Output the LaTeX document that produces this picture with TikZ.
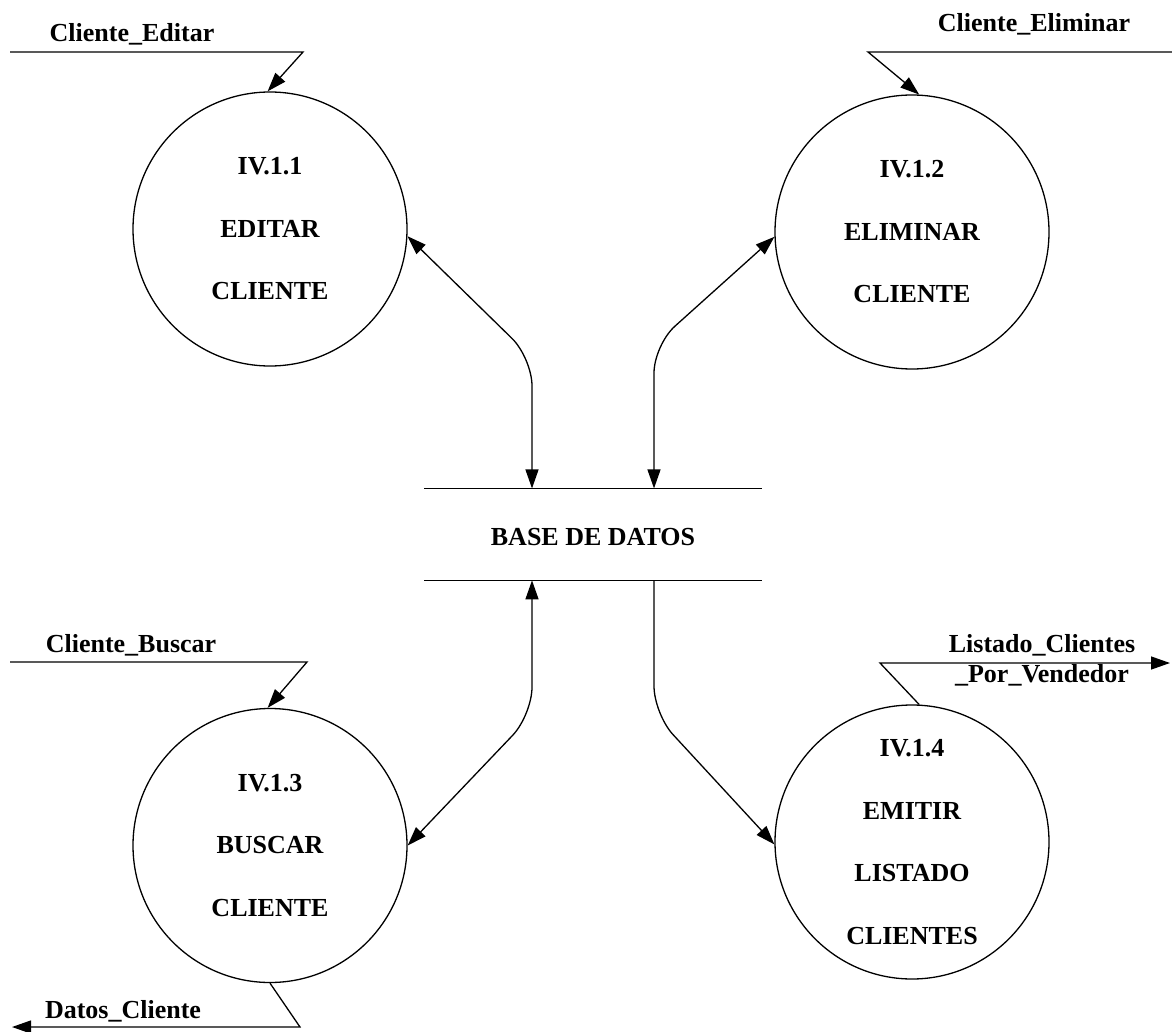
\documentclass[tikz,border=0pt]{standalone}
\usepackage{fontspec}
\setmainfont{Liberation Serif}
\usetikzlibrary{arrows.meta,calc}
\begin{document}
\begin{tikzpicture}[x=1pt,y=-1pt,
  >={Triangle[length=19pt,width=13pt]},
  flow/.style={line width=1.3pt},
  proc/.style={draw,line width=1.3pt,circle,minimum size=274pt,inner sep=0pt,
    align=center,font=\bfseries\fontsize{26}{62.5}\selectfont},
  store/.style={minimum width=337pt,minimum height=91.5pt,inner sep=0pt,
    font=\bfseries\fontsize{26}{30}\selectfont},
  lbl/.style={font=\bfseries\fontsize{26}{30}\selectfont,anchor=base,inner sep=0pt},
]
\useasboundingbox (0,0) rectangle (1172,1032);

% processes
\node[proc] (c1) at (270,229) {IV.1.1\\EDITAR\\CLIENTE};
\node[proc] (c2) at (912,232) {IV.1.2\\ELIMINAR\\CLIENTE};
\node[proc] (c3) at (270,845.5) {IV.1.3\\BUSCAR\\CLIENTE};
\node[proc] (c4) at (912,842) {IV.1.4\\EMITIR\\LISTADO\\CLIENTES};

% data store
\node[store] (db) at (593,534.4) {};
\node[store] (dbt) at (593,537.5) {BASE DE DATOS};
\draw[flow] (db.north west) -- (db.north east);
\draw[flow] (db.south west) -- (db.south east);

\coordinate (xl) at (532,0);
\coordinate (xr) at (654,0);

% flows between processes and the data store
\draw[flow,<->,rounded corners=28pt] (c1.-3) -- (532,358) -- (db.north -| xl);
\draw[flow,<->,rounded corners=28pt] (c2.182) -- (654,345) -- (db.north -| xr);
\draw[flow,<->,rounded corners=28pt] (db.south -| xl) -- (532,715) -- (c3.0);
\draw[flow,->,rounded corners=28pt] (db.south -| xr) -- (654,714) -- (c4.181);

% external flows
\coordinate (e1a) at (10,52);
\coordinate (e1b) at (303,52);
\draw[flow,->] (e1a) -- (e1b) -- (c1.91);
\node[lbl] (t1) at (132,41.5) {Cliente\_Editar};

\coordinate (e2a) at (1172,52);
\coordinate (e2b) at (868,52);
\draw[flow,->] (e2a) -- (e2b) -- (c2.87.5);
\node[lbl] (t2) at (1034,32) {Cliente\_Eliminar};

\coordinate (e3a) at (10,662);
\coordinate (e3b) at (307,662);
\draw[flow,->] (e3a) -- (e3b) -- (c3.91.25);
\node[lbl] (t3) at (131,652.3) {Cliente\_Buscar};

\coordinate (e4a) at (300,1027);
\coordinate (e4b) at (12,1027);
\draw[flow,->] (c3.-90) -- (e4a) -- (e4b);
\node[lbl] (t4) at (123,1018.3) {Datos\_Cliente};

\coordinate (e5a) at (880,663);
\coordinate (e5b) at (1170,663);
\draw[flow,->] (c4.87.5) -- (e5a) -- (e5b);
\node[lbl] (t5) at (1042,652.3) {Listado\_Clientes};
\node[lbl] (t6) at (1042,682.7) {\_Por\_Vendedor};
\end{tikzpicture}
\end{document}
